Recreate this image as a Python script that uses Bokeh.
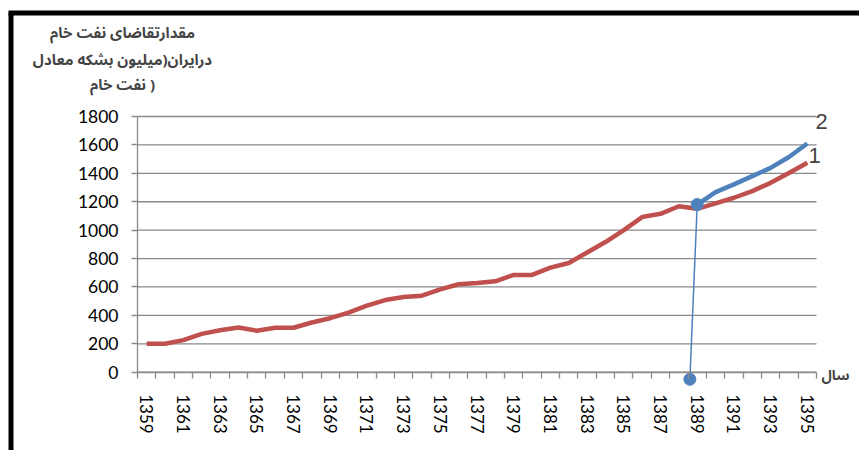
from bokeh.plotting import figure
from bokeh.models import FixedTicker, Label, Range1d
from bokeh.embed import file_html
from bokeh.resources import INLINE

# ---------------- data ----------------
years = list(range(1359, 1396))
demand_1 = [200, 200, 226, 270, 295, 315, 292, 313, 313, 350,
            380, 420, 468, 508, 529, 539, 583, 619, 628, 640,
            685, 685, 736, 769, 843, 916, 1000, 1092, 1115, 1168,
            1150, 1188, 1228, 1275, 1333, 1402, 1475]
forecast_years = [1389, 1390, 1391, 1392, 1393, 1394, 1395]
demand_2 = [1180, 1268, 1322, 1380, 1438, 1515, 1610]
marker_x = [1388.6, 1389]
marker_y = [-50, 1180]
y_ticks = [0, 200, 400, 600, 800, 1000, 1200, 1400, 1600, 1800]
x_tick_labels = years[::2]
series_names = ["1", "2"]
title_lines = ["مقدارتقاضای نفت خام", "درایران(میلیون بشکه معادل", "نفت خام )"]
x_title = "سال"

# ---------------- layout (page pixels -> data units) ----------------
W, H = 859, 450          # canvas, placed at page (0, 0)
CX, CY = 0, 0
X0, X1 = years[0] - 0.5, years[-1] + 0.5
PX0, PX1 = 137, 816      # page x of X0, X1
PY_TOP, PY_ZERO = 116, 371.7   # page y of top tick and of zero
ux = (X1 - X0) / (PX1 - PX0)
uy = y_ticks[-1] / (PY_ZERO - PY_TOP)


def X(px):
    return X0 + (px - PX0) * ux


def Y(py):
    return (PY_ZERO - py) * uy


GRID = "#8a8a8a"
RED = "#C0504D"
BLUE = "#4F81BD"
ARABIC_FONT = "Noto Sans Arabic, DejaVu Sans"

p = figure(width=W, height=H,
           x_range=Range1d(X(CX), X(CX + W)), y_range=Range1d(Y(CY + H), Y(CY)),
           output_backend="svg", toolbar_location=None,
           min_border_left=0, min_border_right=0, min_border_top=0, min_border_bottom=0)
p.outline_line_color = None
p.background_fill_color = "white"
p.border_fill_color = "white"
p.xgrid.visible = False
p.ygrid.visible = False

# frame border (top and left, as in the source)
p.segment(x0=[X(8), X(10.5)], y0=[Y(12.5), Y(12.5)], x1=[X(CX + W), X(10.5)], y1=[Y(12.5), Y(CY + H)],
          line_color="black", line_width=5)

# horizontal gridlines
p.segment(x0=[X0] * len(y_ticks), y0=y_ticks, x1=[X1] * len(y_ticks), y1=y_ticks,
          line_color=GRID, line_width=1.3)

yax = p.yaxis[0]
yax.fixed_location = X0
yax.ticker = FixedTicker(ticks=y_ticks)
yax.bounds = (0, y_ticks[-1])
yax.axis_line_color = GRID
yax.axis_line_width = 1.3
yax.major_tick_line_color = GRID
yax.major_tick_line_width = 1.3
yax.major_tick_out = 6
yax.major_tick_in = 0
yax.minor_tick_line_color = None
yax.major_label_standoff = 13
yax.major_label_text_font = "Lato"
yax.major_label_text_font_size = "17.5px"
yax.major_label_text_color = "black"

tick_x = [y - 0.5 for y in years] + [years[-1] + 0.5]
xax = p.xaxis[0]
xax.fixed_location = 0
xax.ticker = FixedTicker(ticks=x_tick_labels, minor_ticks=tick_x)
xax.bounds = (X0, X1)
xax.axis_line_color = GRID
xax.axis_line_width = 1.3
xax.major_tick_line_color = None
xax.major_tick_out = 0
xax.major_tick_in = 0
xax.minor_tick_line_color = GRID
xax.minor_tick_line_width = 1.3
xax.minor_tick_out = 6
xax.minor_tick_in = 0
xax.major_label_orientation = "vertical"
xax.major_label_standoff = 16
xax.major_label_text_font = "Lato"
xax.major_label_text_font_size = "17px"
xax.major_label_text_color = "black"

p.line(years, demand_1, line_color=RED, line_width=4.5, line_join="round")
p.line(forecast_years, demand_2, line_color=BLUE, line_width=4.5, line_join="round")
p.line(marker_x, marker_y, line_color=BLUE, line_width=1.5)
p.scatter(marker_x, marker_y, size=12, color=BLUE)

p.add_layout(Label(x=X(821), y=Y(121), text=series_names[1], text_font="Liberation Sans",
                   text_font_size="22px", text_align="center", text_baseline="middle"))
p.add_layout(Label(x=X(814), y=Y(155), text=series_names[0], text_font="Liberation Sans",
                   text_font_size="22px", text_align="center", text_baseline="middle"))
p.add_layout(Label(x=X(835), y=Y(375), text=x_title, text_font=ARABIC_FONT,
                   text_font_size="14px", text_font_style="bold",
                   text_align="center", text_baseline="middle"))
for line_text, py in zip(title_lines, [32, 59, 84]):
    p.add_layout(Label(x=X(122), y=Y(py), text=line_text, text_font=ARABIC_FONT,
                       text_font_size="15px", text_font_style="bold",
                       text_align="center", text_baseline="middle"))

open("out.html", "w").write(file_html(p, INLINE))
